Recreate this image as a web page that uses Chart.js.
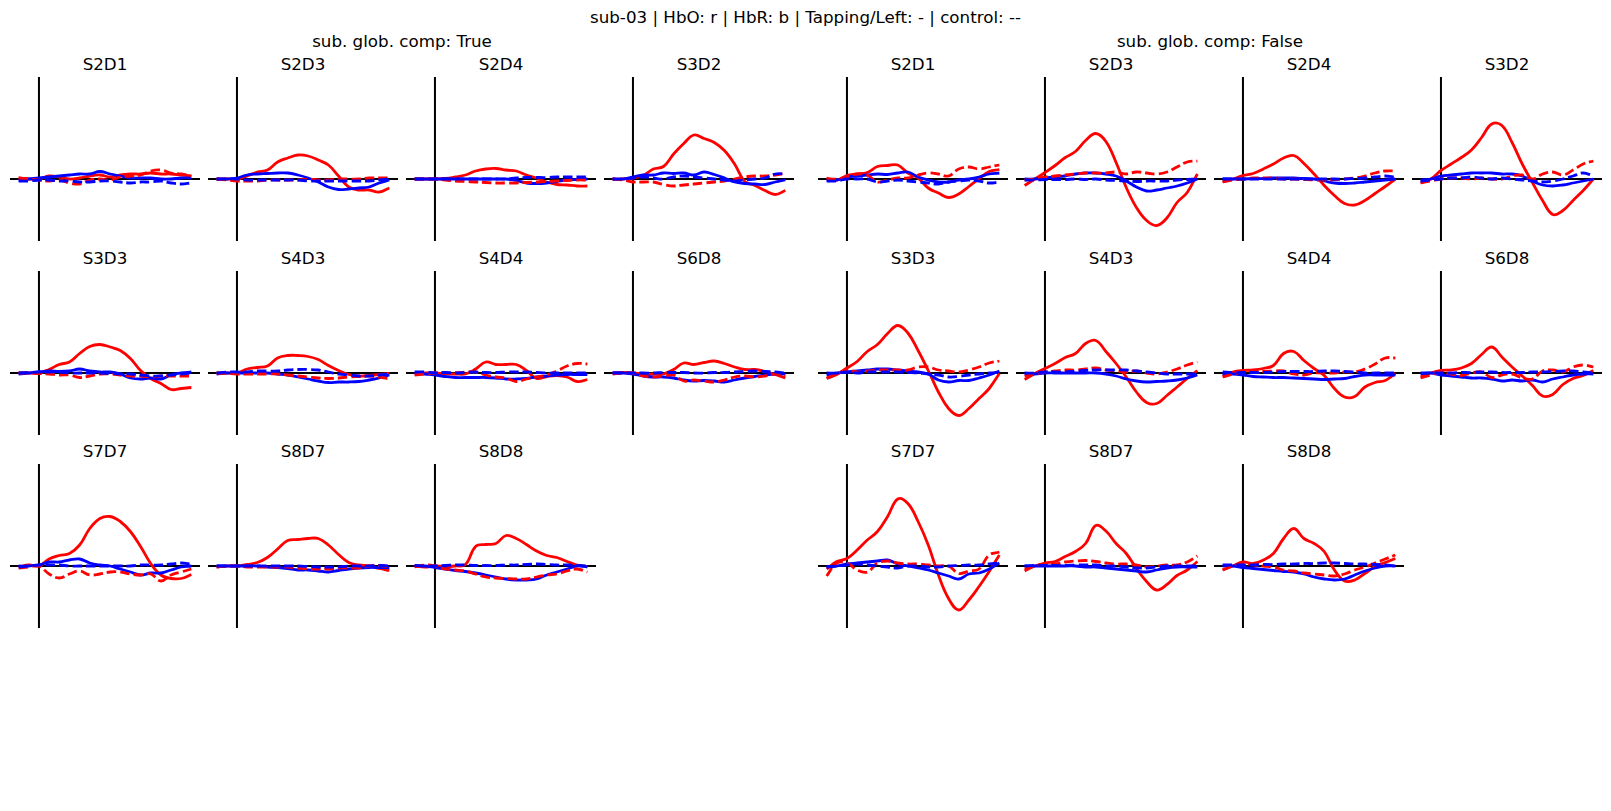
<!DOCTYPE html>
<html>
<head>
<meta charset="utf-8">
<script src="https://cdn.jsdelivr.net/npm/chart.js@4"></script>
<style>
  body { margin: 0; background: #fff; }
  #fig { position: relative; width: 1611px; height: 811px; overflow: hidden; font-family: 'DejaVu Sans', sans-serif; color: #000; }
  .txt { position: absolute; transform: translate(-50%, -50%); white-space: nowrap; font-size: 16.7px; }
  canvas { position: absolute; }
</style>
</head>
<body>
<div id="fig"></div>
<script>
// time axis (s) and channel list
const times = [-2, -1, 0, 1, 2, 3, 4, 5, 6, 7, 8, 9, 10, 11, 12, 13, 14, 15];
const channels = ['S2D1', 'S2D3', 'S2D4', 'S3D2', 'S3D3', 'S4D3', 'S4D4', 'S6D8', 'S7D7', 'S8D7', 'S8D8'];
const groupTitles = ['sub. glob. comp: True', 'sub. glob. comp: False'];

// ---- sub. glob. comp: True ----
const hboTapTrue = [
  [0.1, 0, 0, 0.3, 0.2, 0, 0.1, 0.3, 0.4, 0.2, 0.4, 0.5, 0.5, 0.6, 0.5, 0.5, 0.4, 0.3],
  [0, 0, 0, 0.3, 0.7, 0.9, 1.7, 2.1, 2.4, 2.3, 1.9, 1.4, 0.3, -0.8, -1.1, -1.1, -1.3, -0.9],
  [0, 0, 0, 0.05, 0.2, 0.4, 0.8, 1.0, 1.05, 0.9, 0.8, 0.4, 0.1, -0.3, -0.55, -0.6, -0.7, -0.7],
  [0, 0, 0.1, 0.35, 1.0, 1.25, 2.5, 3.55, 4.4, 4.05, 3.65, 2.85, 1.5, -0.25, -0.65, -1.15, -1.55, -1.15],
  [0, 0, 0, 0.35, 0.85, 1.1, 1.95, 2.65, 2.85, 2.6, 2.25, 1.45, 0.25, -0.55, -1.05, -1.65, -1.55, -1.45],
  [0, 0, 0, 0.4, 0.55, 0.7, 1.5, 1.75, 1.75, 1.65, 1.35, 0.75, 0.25, -0.15, -0.3, -0.25, -0.15, -0.05],
  [-0.1, 0, 0, -0.1, -0.1, -0.1, 0.4, 1.1, 0.85, 0.85, 0.85, 0.25, -0.55, -0.35, -0.25, -0.4, -0.85, -0.65],
  [0, 0.05, 0, -0.1, -0.1, -0.1, 0.35, 1.0, 0.85, 1.05, 1.2, 0.95, 0.6, 0.35, 0.35, 0.15, -0.15, -0.5],
  [-0.1, 0.1, 0, 0.7, 1.05, 1.25, 2.1, 3.75, 4.75, 4.95, 4.45, 3.45, 1.95, 0.25, -0.9, -1.25, -1.25, -0.85],
  [-0.1, 0, 0, 0.15, 0.35, 0.85, 1.7, 2.55, 2.65, 2.75, 2.75, 2.1, 1.15, 0.35, 0.1, 0, -0.25, -0.45],
  [0, -0.1, 0, -0.05, 0, 0.15, 1.95, 2.15, 2.25, 3.05, 2.75, 2.15, 1.5, 1.05, 0.85, 0.45, 0.1, -0.05]
];
const hboCtrlTrue = [
  [0.1, 0, -0.1, -0.2, -0.1, -0.4, -0.5, -0.1, 0, -0.1, 0.2, 0.3, 0.4, 0.8, 0.9, 0.6, 0.5, 0.3],
  [0, -0.1, -0.2, -0.2, -0.2, -0.1, -0.1, -0.1, -0.1, 0, -0.1, -0.1, 0, 0, 0, 0.1, 0.1, 0.1],
  [0, 0, 0, -0.1, -0.2, -0.25, -0.3, -0.35, -0.4, -0.4, -0.4, -0.35, -0.3, -0.25, -0.2, -0.15, -0.1, -0.1],
  [0, -0.1, -0.3, -0.3, -0.3, -0.55, -0.7, -0.6, -0.5, -0.4, -0.3, -0.2, 0, 0.2, 0.3, 0.3, 0.4, 0.6],
  [0, 0, -0.05, -0.1, -0.2, -0.2, -0.45, -0.3, -0.1, -0.1, -0.2, -0.3, -0.3, -0.4, -0.3, -0.3, -0.3, -0.3],
  [0, -0.05, -0.1, -0.1, -0.1, -0.1, -0.1, -0.2, -0.3, -0.4, -0.5, -0.55, -0.5, -0.4, -0.35, -0.3, -0.4, -0.6],
  [-0.2, -0.1, 0, 0, 0, 0.1, 0.1, -0.2, -0.4, -0.5, -0.85, -0.6, -0.4, -0.2, 0.2, 0.7, 0.95, 0.9],
  [-0.1, 0, 0, -0.3, -0.4, -0.3, -0.2, -0.8, -0.7, -0.8, -0.9, -0.7, -0.4, -0.3, -0.4, -0.3, -0.1, -0.3],
  [-0.2, -0.1, 0, -0.8, -1.2, -0.8, -0.5, -0.9, -0.8, -0.6, -0.6, -0.8, -0.9, -0.8, -1.5, -0.9, -0.6, -0.3],
  [-0.1, 0, 0, -0.1, -0.1, -0.1, -0.1, -0.1, -0.2, -0.3, -0.3, -0.3, -0.2, -0.2, -0.2, 0, 0.05, -0.1],
  [-0.1, 0.1, 0, -0.3, -0.4, -0.5, -0.8, -1.1, -1.2, -1.25, -1.3, -1.3, -1.1, -0.9, -0.8, -0.5, -0.3, -0.6]
];
const hbrTapTrue = [
  [-0.1, 0, 0.1, 0.2, 0.3, 0.4, 0.5, 0.5, 0.75, 0.5, 0.3, 0.1, 0.1, 0.1, 0, 0, 0.1, 0.1],
  [0, 0, 0.1, 0.4, 0.5, 0.55, 0.6, 0.6, 0.4, 0.1, -0.3, -0.8, -1.05, -1.0, -0.9, -0.8, -0.4, -0.1],
  [0, 0, 0, 0, 0, 0, 0, 0, 0, 0, -0.15, -0.4, -0.45, -0.4, -0.25, -0.1, -0.05, 0],
  [0, 0, 0.2, 0.4, 0.4, 0.6, 0.55, 0.6, 0.4, 0.7, 0.45, 0.1, -0.3, -0.45, -0.5, -0.55, -0.3, -0.1],
  [-0.1, 0, 0.1, 0.2, 0.15, 0.2, 0.4, 0.2, 0.1, 0.1, -0.1, -0.5, -0.6, -0.5, -0.6, -0.2, 0, 0.1],
  [-0.1, 0, 0, 0, 0, 0, -0.1, -0.2, -0.4, -0.6, -0.8, -0.95, -0.9, -0.9, -0.85, -0.7, -0.5, -0.2],
  [0, -0.1, -0.2, -0.35, -0.45, -0.45, -0.45, -0.45, -0.5, -0.6, -0.6, -0.55, -0.4, -0.3, -0.2, -0.15, -0.15, -0.15],
  [0, 0, -0.1, -0.3, -0.4, -0.4, -0.5, -0.7, -0.8, -0.75, -0.8, -0.9, -0.7, -0.5, -0.35, -0.2, -0.1, -0.1],
  [0, 0, 0.1, 0.4, 0.4, 0.6, 0.7, 0.3, 0.1, 0, -0.3, -0.6, -0.9, -0.7, -0.7, -0.4, -0.1, 0],
  [0, 0, 0, 0, 0, -0.1, -0.15, -0.25, -0.4, -0.4, -0.5, -0.6, -0.45, -0.3, -0.2, -0.15, -0.15, -0.15],
  [0, 0, -0.15, -0.3, -0.45, -0.55, -0.7, -0.9, -1.1, -1.3, -1.4, -1.4, -1.3, -0.9, -0.6, -0.3, 0, -0.1]
];
const hbrCtrlTrue = [
  [-0.2, -0.2, -0.1, -0.1, -0.2, -0.2, -0.3, -0.3, -0.2, -0.2, -0.3, -0.4, -0.3, -0.3, -0.2, -0.4, -0.5, -0.4],
  [0, 0, 0, -0.1, -0.1, -0.1, -0.1, -0.1, -0.1, -0.2, -0.2, -0.2, -0.2, -0.2, -0.2, -0.2, -0.1, 0],
  [0, 0, 0, 0, 0, 0, 0, 0, 0, 0, 0.1, 0.15, 0.15, 0.15, 0.2, 0.2, 0.2, 0.2],
  [0, 0, 0.1, 0.2, 0.1, 0, 0.2, 0.3, 0.2, 0.1, 0, -0.1, -0.2, -0.1, 0, 0.1, 0.5, 0.5],
  [0, 0.05, 0.1, 0.1, 0.1, 0, 0, 0, 0, -0.05, -0.1, -0.1, -0.2, -0.3, -0.3, -0.2, -0.1, 0],
  [0, 0.1, 0.1, 0.1, 0.2, 0.2, 0.2, 0.3, 0.35, 0.35, 0.3, 0.1, -0.1, -0.2, -0.3, -0.3, -0.2, -0.1],
  [0.1, 0.1, 0, 0.05, 0, 0.05, 0.1, 0.05, 0.05, 0.1, 0.1, 0.1, 0.05, 0, 0, 0, 0, 0],
  [0, 0, 0, 0, 0, 0.05, 0.05, 0.05, 0, 0, 0.05, 0.05, 0.1, 0.15, 0.2, 0.15, 0.1, 0],
  [-0.1, 0, 0.1, 0.1, 0.1, 0, 0, 0, 0, 0, 0, 0, 0.1, 0.1, 0.1, 0.2, 0.3, 0.2],
  [0, 0, 0, 0, 0, 0, 0, 0, 0, -0.05, -0.1, -0.1, -0.1, 0, 0, 0, 0.05, 0],
  [0.05, 0, 0, 0.05, 0.1, 0.1, 0.05, 0.05, 0.05, 0.1, 0.1, 0.15, 0.2, 0.15, 0.1, 0.1, 0.05, 0]
];

// ---- sub. glob. comp: False ----
const hboTapFalse = [
  [0.1, -0.1, 0.35, 0.5, 0.65, 1.25, 1.35, 1.4, 0.6, 0.1, -0.9, -1.4, -1.85, -1.5, -0.75, 0.05, 0.75, 0.95],
  [-0.65, 0, 0.65, 1.35, 2.15, 2.75, 3.85, 4.55, 3.75, 1.65, -0.85, -2.85, -4.15, -4.65, -3.9, -2.35, -1.35, 0.5],
  [-0.3, 0, 0.35, 0.55, 1.0, 1.5, 2.1, 2.35, 1.55, 0.5, -0.65, -1.65, -2.45, -2.6, -2.15, -1.45, -0.75, 0],
  [-0.4, 0, 0.85, 1.5, 2.15, 2.9, 4.15, 5.5, 5.35, 3.65, 1.5, -0.35, -2.15, -3.55, -3.15, -2.15, -1.15, 0],
  [-0.55, -0.15, 0.5, 1.15, 2.15, 2.85, 3.95, 4.75, 4.0, 2.25, 0.25, -1.9, -3.55, -4.25, -3.55, -2.55, -1.55, -0.05],
  [-0.65, -0.05, 0.45, 0.95, 1.55, 1.95, 2.95, 3.25, 2.15, 0.95, -0.4, -1.9, -2.95, -3.05, -2.25, -1.4, -0.55, 0.25],
  [-0.3, 0.1, 0.25, 0.3, 0.45, 0.75, 1.95, 2.15, 1.25, 0.45, -0.25, -1.55, -2.4, -2.35, -1.4, -0.95, -0.75, -0.05],
  [-0.4, 0, 0.25, 0.3, 0.5, 0.95, 1.85, 2.6, 1.6, 0.6, -0.3, -1.25, -2.3, -2.15, -1.15, -0.55, -0.25, 0.25],
  [-0.3, 0.45, 0.75, 1.6, 2.6, 3.45, 4.95, 6.7, 6.25, 4.45, 2.1, -0.9, -3.25, -4.4, -3.4, -2.05, -0.55, 1.1],
  [-0.5, 0, 0.3, 0.45, 0.95, 1.45, 2.25, 4.05, 3.5, 2.25, 1.25, -0.25, -1.55, -2.4, -1.85, -0.95, -0.4, 0.45],
  [-0.4, 0, 0.4, 0.25, 0.6, 1.25, 2.75, 3.75, 2.75, 2.25, 1.45, -0.4, -1.5, -1.4, -0.75, -0.05, 0.35, 0.75]
];
const hboCtrlFalse = [
  [0, 0, 0.2, 0.5, 0.4, -0.3, -0.1, 0.1, 0.1, 0.4, 0.6, 0.5, 0.3, 1.0, 1.2, 1.0, 1.2, 1.4],
  [-0.1, 0, 0.2, 0.3, 0.4, 0.5, 0.6, 0.6, 0.6, 0.7, 0.5, 0.7, 0.6, 0.5, 0.7, 1.2, 1.7, 1.8],
  [-0.3, -0.1, 0, 0.1, 0.1, 0.1, 0, 0, -0.05, -0.1, -0.1, -0.05, 0, 0.1, 0.3, 0.6, 0.8, 0.8],
  [-0.4, -0.2, 0, 0.1, 0.1, 0, 0.1, 0, 0, 0.3, 0.4, 0, 0.5, 0.7, 0.4, 0.9, 1.5, 1.8],
  [-0.5, -0.1, 0.3, 0.1, 0.2, 0.3, 0.3, 0.3, 0.3, 0.6, 0.6, 0.3, 0.2, 0.1, 0.3, 0.6, 1.0, 1.2],
  [-0.3, -0.1, 0.1, 0.2, 0.3, 0.3, 0.4, 0.5, 0.3, 0.2, 0.1, 0.2, 0, -0.1, 0.1, 0.4, 0.8, 1.1],
  [-0.4, -0.1, 0.1, 0.2, 0.15, 0.2, 0.2, -0.1, -0.2, 0, 0, 0, 0.1, 0.1, 0.4, 0.9, 1.5, 1.5],
  [-0.5, -0.2, 0.1, -0.1, -0.25, 0, 0.1, -0.45, -0.2, -0.1, -0.5, -0.6, 0.2, 0.3, 0.1, 0.6, 0.8, 0.6],
  [-1.0, 0.3, 0.3, -0.4, -0.6, 0.3, 0.5, 0.3, 0.2, 0.2, 0.1, 0, 0, -0.75, -0.5, -0.3, 1.1, 1.4],
  [-0.3, 0, 0.2, 0.2, 0.4, 0.5, 0.55, 0.45, 0.3, 0.2, 0.2, 0.1, -0.1, 0, 0.1, 0.1, 0.4, 1.0],
  [-0.4, 0, 0.3, 0.1, 0, -0.1, -0.4, -0.5, -0.7, -0.8, -0.9, -1.0, -0.8, -0.4, -0.1, 0.3, 0.7, 1.1]
];
const hbrTapFalse = [
  [-0.1, -0.1, 0.2, 0.3, 0.4, 0.5, 0.45, 0.6, 0.7, 0.2, -0.1, -0.3, -0.3, -0.1, 0, 0.2, 0.5, 0.6],
  [0, 0, 0.1, 0.2, 0.3, 0.5, 0.6, 0.6, 0.5, 0.3, -0.2, -0.8, -1.2, -1.1, -0.9, -0.7, -0.4, 0],
  [0, 0, 0, 0.05, 0.05, 0.1, 0.1, 0.1, 0.05, 0, -0.2, -0.4, -0.45, -0.4, -0.3, -0.2, -0.1, 0],
  [-0.1, 0, 0.3, 0.4, 0.5, 0.6, 0.6, 0.6, 0.5, 0.5, 0.3, -0.2, -0.6, -0.7, -0.6, -0.4, -0.2, 0],
  [-0.2, 0, 0.1, 0.2, 0.3, 0.4, 0.4, 0.3, 0.2, 0.1, -0.1, -0.7, -0.9, -0.75, -0.75, -0.5, -0.2, 0.2],
  [-0.1, -0.1, 0, 0, 0, 0, 0, 0, -0.1, -0.3, -0.6, -0.8, -0.9, -0.85, -0.8, -0.7, -0.5, -0.2],
  [-0.1, -0.1, -0.2, -0.35, -0.4, -0.45, -0.45, -0.5, -0.55, -0.6, -0.65, -0.6, -0.55, -0.35, -0.2, -0.2, -0.2, -0.2],
  [-0.1, 0, -0.2, -0.3, -0.4, -0.5, -0.5, -0.6, -0.8, -0.7, -0.8, -0.7, -0.9, -0.6, -0.4, -0.2, -0.1, -0.1],
  [-0.1, 0, 0.2, 0.3, 0.4, 0.5, 0.6, 0.2, 0, -0.2, -0.4, -0.7, -1.0, -1.3, -0.8, -0.7, -0.3, 0.3],
  [0, 0, 0, 0, 0, 0, -0.1, -0.1, -0.2, -0.3, -0.4, -0.5, -0.6, -0.4, -0.2, -0.1, -0.1, -0.1],
  [0, 0, -0.15, -0.25, -0.35, -0.45, -0.55, -0.6, -0.8, -1.1, -1.3, -1.4, -1.3, -0.9, -0.5, -0.2, 0, 0]
];
const hbrCtrlFalse = [
  [-0.2, -0.2, 0, 0, 0, -0.3, -0.2, -0.1, -0.2, -0.3, -0.4, -0.5, -0.3, -0.2, -0.1, -0.2, -0.4, -0.3],
  [-0.1, -0.1, -0.05, -0.05, -0.05, 0, -0.05, 0, -0.1, -0.15, -0.2, -0.25, -0.2, -0.2, -0.2, -0.1, -0.05, 0],
  [0, 0, 0, 0, 0, 0, 0, 0, 0, 0, 0, 0, 0, 0.05, 0.1, 0.2, 0.3, 0.2],
  [-0.2, -0.1, 0, 0.1, 0.1, 0.2, 0.1, 0, 0.1, 0, -0.1, -0.2, -0.3, -0.2, 0, 0.3, 0.6, 0.3],
  [0, 0, 0.1, 0, 0.1, 0.1, 0.1, 0.1, 0.05, 0, -0.1, -0.2, -0.4, -0.35, -0.2, -0.1, 0, 0.05],
  [0, 0, 0.1, 0.1, 0.1, 0.2, 0.25, 0.3, 0.3, 0.3, 0.3, 0.2, 0.1, 0, -0.1, -0.1, -0.1, -0.1],
  [0.1, 0.05, 0.05, 0.05, 0.05, 0.1, 0.15, 0.15, 0.15, 0.15, 0.2, 0.2, 0.15, 0.1, 0, 0, 0, 0],
  [0, 0, 0, 0, 0.05, 0.05, 0.1, 0.1, 0.05, 0.05, 0.05, 0.1, 0.1, 0.15, 0.2, 0.2, 0.1, 0],
  [-0.1, 0, 0.1, 0.2, 0.1, 0, -0.1, -0.2, 0, 0, -0.1, -0.1, 0, 0.05, 0.1, 0.1, 0.2, 0.3],
  [0, 0.05, 0.05, 0.05, 0.05, 0.1, 0.1, 0.1, 0, 0, -0.1, -0.2, -0.2, -0.1, 0, 0, 0, 0],
  [0.1, 0.1, 0.1, 0.1, 0.15, 0.15, 0.2, 0.2, 0.25, 0.25, 0.3, 0.3, 0.25, 0.2, 0.2, 0.15, 0.1, 0]
];

const groups = [
  { title: groupTitles[0], left: 10, hboTap: hboTapTrue, hboCtrl: hboCtrlTrue, hbrTap: hbrTapTrue, hbrCtrl: hbrCtrlTrue },
  { title: groupTitles[1], left: 818, hboTap: hboTapFalse, hboCtrl: hboCtrlFalse, hbrTap: hbrTapFalse, hbrCtrl: hbrCtrlFalse }
];

const fig = document.getElementById('fig');
const axW = 190, axH = 164, colStep = 198;
const rowTops = [77, 270.5, 464];
const pad = 4;

function addText(str, x, y) {
    const d = document.createElement('div');
    d.className = 'txt';
    d.textContent = str;
    d.style.left = x + 'px';
    d.style.top = y + 'px';
    fig.appendChild(d);
}

// zero lines, like axhline / axvline
const zeroLines = {
    id: 'zeroLines',
    beforeDatasetsDraw(chart) {
        const { ctx, chartArea, scales } = chart;
        const x0 = scales.x.getPixelForValue(0);
        const y0 = scales.y.getPixelForValue(0);
        ctx.save();
        ctx.strokeStyle = '#000';
        ctx.lineWidth = 2;
        ctx.beginPath();
        ctx.moveTo(chartArea.left, y0);
        ctx.lineTo(chartArea.right, y0);
        ctx.moveTo(x0, chartArea.top);
        ctx.lineTo(x0, chartArea.bottom);
        ctx.stroke();
        ctx.restore();
    }
};

function series(vals, color, dashed) {
    return {
        data: times.map((t, i) => ({ x: t, y: vals[i] })),
        borderColor: color,
        borderWidth: 2.8,
        borderDash: dashed ? [9.5, 4] : [],
        tension: 0.4,
        pointRadius: 0,
        fill: false
    };
}

addText('sub-03 | HbO: r | HbR: b | Tapping/Left: - | control: --', 805.5, 16.5);

groups.forEach(g => {
    addText(g.title, g.left + (3 * colStep + axW) / 2, 41);
    channels.forEach((ch, k) => {
        const row = Math.floor(k / 4), col = k % 4;
        const left = g.left + col * colStep;
        const top = rowTops[row];
        addText(ch, left + axW / 2, top - 13);

        const canvas = document.createElement('canvas');
        canvas.width = axW + 2 * pad;
        canvas.height = axH + 2 * pad;
        canvas.style.left = (left - pad) + 'px';
        canvas.style.top = (top - pad) + 'px';
        fig.appendChild(canvas);

        new Chart(canvas.getContext('2d'), {
            type: 'line',
            data: {
                datasets: [
                    series(g.hbrCtrl[k], '#0000ff', true),
                    series(g.hboCtrl[k], '#ff0000', true),
                    series(g.hbrTap[k], '#0000ff', false),
                    series(g.hboTap[k], '#ff0000', false)
                ]
            },
            options: {
                responsive: false,
                animation: false,
                events: [],
                layout: { padding: pad },
                plugins: { legend: { display: false }, tooltip: { enabled: false } },
                scales: {
                    x: { type: 'linear', display: false, min: -2.85, max: 15.85 },
                    y: { display: false, min: -6.2, max: 10.2 }
                }
            },
            plugins: [zeroLines]
        });
    });
});
</script>
</body>
</html>
